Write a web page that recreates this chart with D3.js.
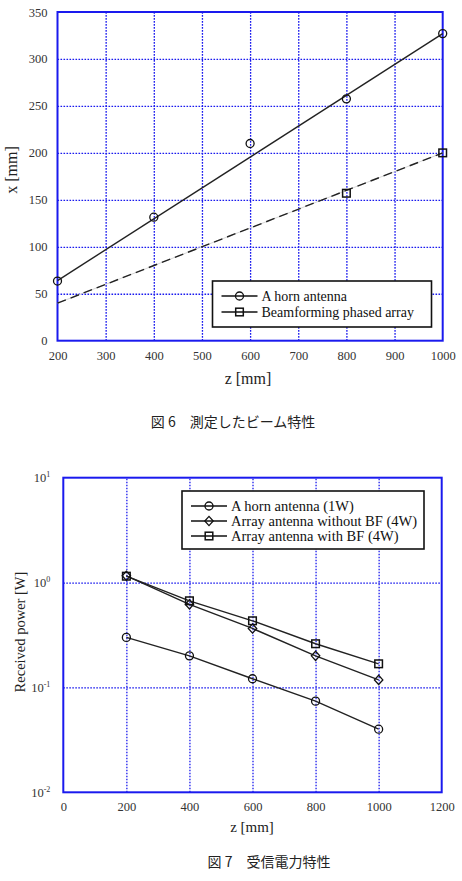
<!DOCTYPE html>
<html>
<head>
<meta charset="utf-8">
<script src="https://cdn.jsdelivr.net/npm/d3@7"></script>
<style>
  body { margin: 0; background: #fff; }
  svg { display: block; }
  .grid line { stroke: #1a1aee; stroke-width: 1.3; stroke-dasharray: 1.6,1.4; }
</style>
</head>
<body>
<svg id="chart" width="462" height="881"></svg>
<script>
// Fig. 6 : measured beam position
const beamZ = [200, 400, 600, 800, 1000];
const hornX = [63.5, 131.5, 210, 257.5, 327];
const arrayZ = [800, 1000];
const arrayX = [157, 200];
const fitZ = [200, 1000];
const hornFit = [64, 327];
const arrayFit = [40, 200];
const beamXTicks = [200, 300, 400, 500, 600, 700, 800, 900, 1000];
const beamYTicks = [0, 50, 100, 150, 200, 250, 300, 350];

// Fig. 7 : received power
const powerZ = [200, 400, 600, 800, 1000];
const hornPower = [0.30, 0.20, 0.121, 0.074, 0.040];
const noBfPower = [1.16, 0.62, 0.365, 0.20, 0.118];
const bfPower = [1.15, 0.67, 0.432, 0.261, 0.168];
const powerXTicks = [0, 200, 400, 600, 800, 1000, 1200];
const powerYTicks = [10, 1, 0.1, 0.01];

const blue = "#1a1aee";
const serif = "Liberation Serif, serif";
const svg = d3.select("#chart");

function marker(g, type, cx, cy) {
  if (type === "circle") {
    g.append("circle").attr("cx", cx).attr("cy", cy).attr("r", 4)
      .attr("fill", "none").attr("stroke", "#111").attr("stroke-width", 1.3);
  } else if (type === "square") {
    g.append("rect").attr("x", cx - 3.8).attr("y", cy - 3.8).attr("width", 7.6).attr("height", 7.6)
      .attr("fill", "none").attr("stroke", "#111").attr("stroke-width", 1.5);
  } else {
    g.append("path").attr("d", `M${cx},${cy - 4.6}L${cx + 4.2},${cy}L${cx},${cy + 4.6}L${cx - 4.2},${cy}Z`)
      .attr("fill", "none").attr("stroke", "#111").attr("stroke-width", 1.3);
  }
}

function frame(x, y, xTicks, yTicks) {
  const [x0, x1] = x.range();
  const [y0, y1] = y.range();
  svg.append("g").attr("class", "grid")
    .attr("transform", `translate(0,${y0})`)
    .call(d3.axisBottom(x).tickValues(xTicks.slice(1, -1)).tickSize(-(y0 - y1)).tickFormat(""))
    .call(g => g.select(".domain").remove());
  svg.append("g").attr("class", "grid")
    .attr("transform", `translate(${x0},0)`)
    .call(d3.axisLeft(y).tickValues(yTicks.slice(1, -1)).tickSize(-(x1 - x0)).tickFormat(""))
    .call(g => g.select(".domain").remove());
  svg.append("rect").attr("x", x0).attr("y", y1).attr("width", x1 - x0).attr("height", y0 - y1)
    .attr("fill", "none").attr("stroke", blue).attr("stroke-width", 2);
}

function tickText(g, size) {
  g.attr("font-family", serif);
  g.select(".domain").remove();
  g.selectAll("text").attr("font-size", size).attr("fill", "#333");
}

function legend(x, y, w, h, items, fontSize) {
  const g = svg.append("g");
  g.append("rect").attr("x", x).attr("y", y).attr("width", w).attr("height", h)
    .attr("fill", "#fff").attr("stroke", "#111").attr("stroke-width", 1.6);
  items.forEach(it => {
    const cy = y + it.dy;
    g.append("line").attr("x1", x + 9).attr("x2", x + 45).attr("y1", cy).attr("y2", cy)
      .attr("stroke", "#111").attr("stroke-width", 1.3);
    marker(g, it.type, x + 27, cy);
    g.append("text").attr("x", x + 49).attr("y", cy + 5)
      .attr("font-family", serif).attr("font-size", fontSize)
      .attr("fill", "#111").text(it.label);
  });
}

// ---------- Fig. 6 ----------
const x6 = d3.scaleLinear().domain([200, 1000]).range([57.5, 442.7]);
const y6 = d3.scaleLinear().domain([0, 350]).range([340.7, 12]);
frame(x6, y6, beamXTicks, beamYTicks);

svg.append("g").attr("transform", `translate(0,${y6(0)})`)
  .call(d3.axisBottom(x6).tickValues(beamXTicks).tickSize(0).tickPadding(10).tickFormat(d3.format("d")))
  .call(tickText, 12.5);
svg.append("g").attr("transform", `translate(${x6(200)},0)`)
  .call(d3.axisLeft(y6).tickValues(beamYTicks).tickSize(0).tickPadding(10).tickFormat(d3.format("d")))
  .call(tickText, 12.5);

const line6 = d3.line().x(d => x6(d[0])).y(d => y6(d[1]));
svg.append("path").datum(d3.zip(fitZ, hornFit)).attr("d", line6)
  .attr("fill", "none").attr("stroke", "#222").attr("stroke-width", 1.4);
svg.append("path").datum(d3.zip(fitZ, arrayFit)).attr("d", line6)
  .attr("fill", "none").attr("stroke", "#ccc").attr("stroke-width", 0.8);
svg.append("path").datum(d3.zip(fitZ, arrayFit)).attr("d", line6)
  .attr("fill", "none").attr("stroke", "#222").attr("stroke-width", 1.4).attr("stroke-dasharray", "9,5");

const m6 = svg.append("g");
beamZ.forEach((z, i) => marker(m6, "circle", x6(z), y6(hornX[i])));
arrayZ.forEach((z, i) => marker(m6, "square", x6(z), y6(arrayX[i])));

legend(212.5, 281, 219, 46, [
  { type: "circle", label: "A horn antenna", dy: 15 },
  { type: "square", label: "Beamforming phased array", dy: 31 }
], 14);

svg.append("text").attr("x", 248).attr("y", 384).attr("text-anchor", "middle")
  .attr("font-family", serif).attr("font-size", 16).attr("fill", "#222")
  .text("z [mm]");
svg.append("text").attr("transform", "translate(17,170) rotate(-90)").attr("text-anchor", "middle")
  .attr("font-family", serif).attr("font-size", 16).attr("fill", "#222")
  .text("x [mm]");
svg.append("text").attr("x", 233).attr("y", 427).attr("text-anchor", "middle")
  .attr("font-family", "Noto Sans CJK JP, sans-serif").attr("font-size", 14).attr("fill", "#222")
  .text("図 6\u3000測定したビーム特性");

// ---------- Fig. 7 ----------
const x7 = d3.scaleLinear().domain([0, 1200]).range([63.3, 441.7]);
const y7 = d3.scaleLog().domain([0.01, 10]).range([792.3, 477.7]);
frame(x7, y7, powerXTicks, powerYTicks);

svg.append("g").attr("transform", `translate(0,${y7(0.01)})`)
  .call(d3.axisBottom(x7).tickValues(powerXTicks).tickSize(0).tickPadding(10).tickFormat(d3.format("d")))
  .call(tickText, 12.5);
const yAx7 = svg.append("g").attr("transform", `translate(${x7(0)},0)`)
  .call(d3.axisLeft(y7).tickValues(powerYTicks).tickSize(0).tickPadding(13).tickFormat(() => "10"))
  .call(tickText, 12.5);
yAx7.selectAll("text").each(function (d) {
  const e = Math.round(Math.log10(d));
  d3.select(this).append("tspan").attr("dy", -5).attr("font-size", 8)
    .text(e < 0 ? "-" + Math.abs(e) : e);
});

const line7 = d3.line().x(d => x7(d[0])).y(d => y7(d[1]));
const series7 = [
  { vals: hornPower, type: "circle" },
  { vals: noBfPower, type: "diamond" },
  { vals: bfPower, type: "square" }
];
series7.forEach(s => {
  svg.append("path").datum(d3.zip(powerZ, s.vals)).attr("d", line7)
    .attr("fill", "none").attr("stroke", "#222").attr("stroke-width", 1.4);
  const g = svg.append("g");
  powerZ.forEach((z, i) => marker(g, s.type, x7(z), y7(s.vals[i])));
});

legend(182, 491, 242, 58, [
  { type: "circle", label: "A horn antenna (1W)", dy: 15 },
  { type: "diamond", label: "Array antenna without BF (4W)", dy: 30 },
  { type: "square", label: "Array antenna with BF (4W)", dy: 45 }
], 14.5);

svg.append("text").attr("x", 252).attr("y", 832).attr("text-anchor", "middle")
  .attr("font-family", serif).attr("font-size", 15).attr("fill", "#222")
  .text("z [mm]");
svg.append("text").attr("transform", "translate(25,632) rotate(-90)").attr("text-anchor", "middle")
  .attr("font-family", serif).attr("font-size", 14.5).attr("fill", "#222")
  .text("Received power [W]");
svg.append("text").attr("x", 269).attr("y", 867).attr("text-anchor", "middle")
  .attr("font-family", "Noto Sans CJK JP, sans-serif").attr("font-size", 14).attr("fill", "#222")
  .text("図 7\u3000受信電力特性");
</script>
</body>
</html>
